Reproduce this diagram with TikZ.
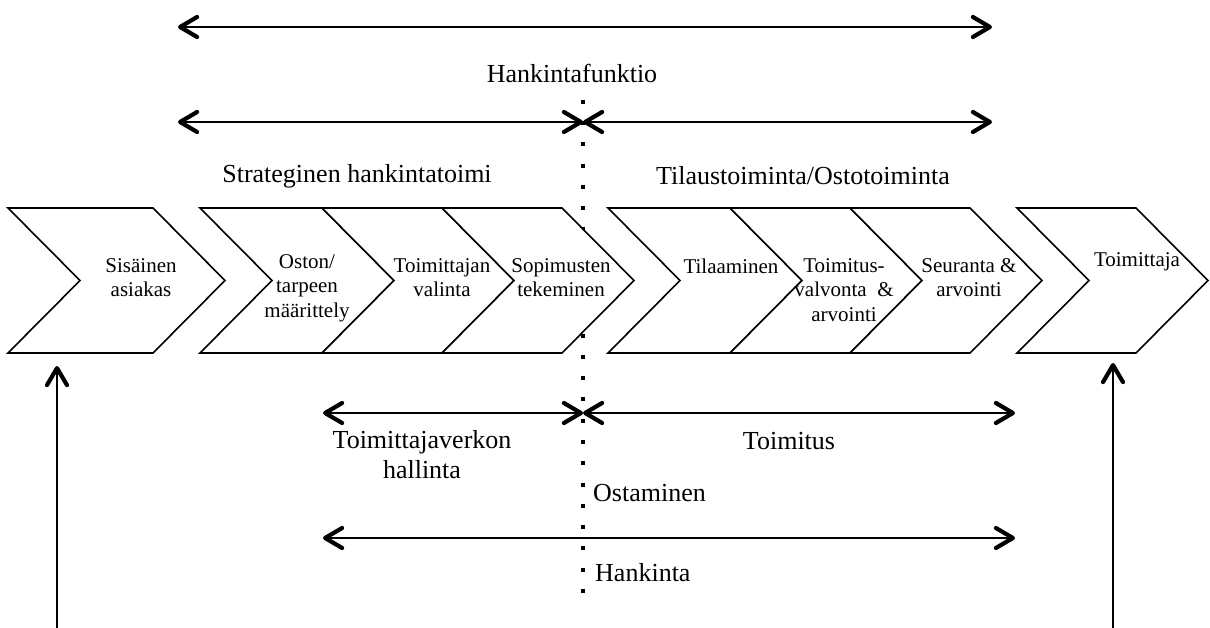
\documentclass[tikz,border=0pt]{standalone}
\usepackage{fontspec}
\setmainfont{Liberation Serif}
\usetikzlibrary{
    arrows.meta,
    positioning
}
\tikzset{barb/.tip={Straight Barb[length=17pt,width=20pt,line width=4.2pt,round]}}
\tikzstyle{chevron} = [
    draw=black,
    line width=1.6pt,
    fill=white,
    line join=miter
]
\tikzstyle{steplabel} = [
    align=center,
    inner sep=0pt,
    font=\fontsize{21}{24.5}\selectfont
]
\tikzstyle{spanlabel} = [
    align=center,
    inner sep=0pt,
    font=\fontsize{26}{30}\selectfont
]
\tikzstyle{span} = [
    barb-barb,
    line width=2pt
]
\tikzstyle{rise} = [
    -barb,
    line width=2pt
]
\tikzstyle{divider} = [
    line width=4pt,
    dash pattern=on 4pt off 17.27pt
]

\begin{document}
\begin{tikzpicture}[x=1pt, y=-1pt]
        \useasboundingbox (0,0) rectangle (1210,628);

        % Dotted divider
        \draw[divider] (583,99.7) -- (583,593);

        % Chevrons
        \foreach \x/\w in {8/145,200/122,322/120,442/120,608/122,730/120,850/120,1017/119}
            \draw[chevron] (\x,208) -- ++(\w,0) -- ++(72,72.5) -- ++(-72,72.5)
                -- ++(-\w,0) -- ++(72,-72.5) -- cycle;

        % Steps
        \node[steplabel] (asiakas) at (141,277.5) {Sisäinen\\asiakas};
        \node[steplabel] (tarve) at (307,288) {Oston/\\tarpeen\\määrittely};
        \node[steplabel] (valinta) at (442,277.5) {Toimittajan\\valinta};
        \node[steplabel] (sopimus) at (561,277.5) {Sopimusten\\tekeminen};
        \node[steplabel] (tilaus) at (731,266) {Tilaaminen};
        \node[steplabel] (valvonta) at (844,290) {Toimitus-\\valvonta~~\&\\arvointi};
        \node[steplabel] (seuranta) at (969,277.5) {Seuranta \&\\arvointi};
        \node[steplabel] (toimittaja) at (1137,262) {Toimittaja};

        % Upper spans
        \coordinate (funcL) at (178,27);
        \coordinate (funcR) at (992,27);
        \draw[span] (funcL) -- (funcR);
        \node[spanlabel] (funktio) at (572,73) {Hankintafunktio};

        \coordinate (stratL) at (178,122);
        \coordinate (upMid) at (583,122);
        \coordinate (tilR) at (992,122);
        \draw[span] (stratL) -- (upMid);
        \draw[span] (upMid) -- (tilR);
        \node[spanlabel] (strat) at (357,176) {Strateginen hankintatoimi};
        \node[spanlabel] (tilaustoim) at (803,176) {Tilaustoiminta/Ostotoiminta};

        % Lower spans
        \coordinate (verkL) at (323,413);
        \coordinate (lowMid) at (583,413);
        \coordinate (toimR) at (1015,413);
        \draw[span] (verkL) -- (lowMid);
        \draw[span] (lowMid) -- (toimR);
        \node[spanlabel] (verkko) at (422,455) {Toimittajaverkon\\hallinta};
        \node[spanlabel] (toimitus) at (789,441) {Toimitus};
        \node[spanlabel, anchor=west] (ostaminen) at (593,493) {Ostaminen};

        \coordinate (hankL) at (323,538);
        \coordinate (hankR) at (1015,538);
        \draw[span] (hankL) -- (hankR);
        \node[spanlabel, anchor=west] (hankinta) at (595,573) {Hankinta};

        % Inputs from below
        \coordinate (asiakasIn) at (57,628);
        \coordinate (asiakasTip) at (57,366);
        \draw[rise] (asiakasIn) -- (asiakasTip);
        \coordinate (toimIn) at (1113,628);
        \coordinate (toimTip) at (1113,363);
        \draw[rise] (toimIn) -- (toimTip);
    \end{tikzpicture}
\end{document}
